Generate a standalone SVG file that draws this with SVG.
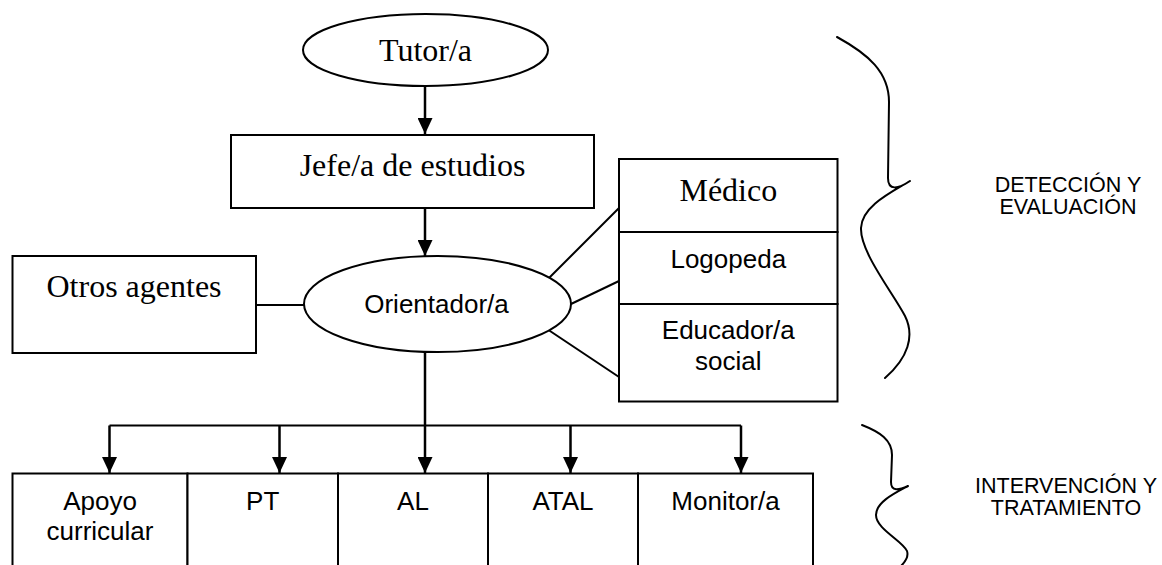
<svg xmlns="http://www.w3.org/2000/svg" width="1162" height="565" viewBox="0 0 1162 565">
<style>
.shape{fill:#fff;stroke:#000;stroke-width:2}
.ln{fill:none;stroke:#000;stroke-width:2}
.arr{fill:none;stroke:#000;stroke-width:2.5;marker-end:url(#ah)}
.brace{fill:none;stroke:#000;stroke-width:2;stroke-linecap:round;stroke-linejoin:round}
.serif{font-family:"Liberation Serif","Times New Roman",serif;font-size:32px;fill:#000;text-anchor:middle}
.sans{font-family:"Liberation Sans",Arial,sans-serif;font-size:26px;fill:#000;text-anchor:middle}
.lbl{font-family:"Liberation Sans",Arial,sans-serif;font-size:21.5px;fill:#000;text-anchor:middle}
</style>
<defs>
<marker id="ah" markerUnits="userSpaceOnUse" markerWidth="16" markerHeight="15" viewBox="0 0 16 15" refX="16" refY="7.5" orient="auto">
<path d="M0,0 L16,7.5 L0,15 Z" fill="#000"/>
</marker>
</defs>
<rect width="1162" height="565" fill="#fff"/>

<g id="connectors">
<line class="arr" x1="425" y1="86" x2="425" y2="134"/>
<line class="arr" x1="425" y1="208" x2="425" y2="256"/>
<line class="ln" x1="256" y1="305" x2="304" y2="305"/>
<line class="ln" x1="619" y1="208" x2="547" y2="280"/>
<line class="ln" x1="619" y1="281" x2="571" y2="304"/>
<line class="ln" x1="547" y1="329" x2="619" y2="377"/>
<line class="arr" x1="425" y1="352" x2="425" y2="473"/>
<line class="ln" x1="109.5" y1="425.5" x2="741" y2="425.5" stroke-width="2.5"/>
<line class="arr" x1="109.5" y1="425.5" x2="109.5" y2="473"/>
<line class="arr" x1="279.5" y1="425.5" x2="279.5" y2="473"/>
<line class="arr" x1="570.5" y1="425.5" x2="570.5" y2="473"/>
<line class="arr" x1="741" y1="425.5" x2="741" y2="473"/>
</g>

<g id="tutor">
<ellipse class="shape" cx="425.5" cy="50" rx="122.5" ry="36"/>
<text class="serif" x="425.5" y="61">Tutor/a</text>
</g>

<g id="jefe">
<rect class="shape" x="231" y="135" width="363" height="73"/>
<text class="serif" x="412.5" y="175.5">Jefe/a de estudios</text>
</g>

<g id="otros">
<rect class="shape" x="12.5" y="256" width="243.5" height="97"/>
<text class="serif" x="134" y="297">Otros agentes</text>
</g>

<g id="orientador">
<ellipse class="shape" cx="437.5" cy="304" rx="133.5" ry="48"/>
<text class="sans" x="436.5" y="313">Orientador/a</text>
</g>

<g id="medico">
<rect class="shape" x="619" y="159" width="218.5" height="73"/>
<text class="serif" x="728.3" y="200.5">Médico</text>
</g>
<g id="logopeda">
<rect class="shape" x="619" y="232" width="218.5" height="72"/>
<text class="sans" x="728.3" y="268">Logopeda</text>
</g>
<g id="educador">
<rect class="shape" x="619" y="304" width="218.5" height="97.5"/>
<text class="sans" x="728.3" y="339">Educador/a</text>
<text class="sans" x="728.3" y="370">social</text>
</g>

<g id="apoyo">
<rect class="shape" x="12.5" y="473.5" width="175" height="120"/>
<text class="sans" x="100" y="509.5">Apoyo</text>
<text class="sans" x="100" y="540">curricular</text>
</g>
<g id="pt">
<rect class="shape" x="187.5" y="473.5" width="150.5" height="120"/>
<text class="sans" x="262.7" y="509.5">PT</text>
</g>
<g id="al">
<rect class="shape" x="338" y="473.5" width="150" height="120"/>
<text class="sans" x="413" y="509.5">AL</text>
</g>
<g id="atal">
<rect class="shape" x="488" y="473.5" width="150" height="120"/>
<text class="sans" x="563" y="509.5">ATAL</text>
</g>
<g id="monitor">
<rect class="shape" x="638" y="473.5" width="175" height="120"/>
<text class="sans" x="725.5" y="509.5">Monitor/a</text>
</g>

<g id="brace-deteccion">
<path class="brace" d="M837,37 C868,54 889,72 889,102 L888,178 C888,191 898,189 910,181 C892,192 862,206 861,228 C860,252 893,293 905,316 C915,336 908,358 885,378"/>
<text class="lbl" x="1068" y="191.5">DETECCIÓN Y</text>
<text class="lbl" x="1068" y="213.5">EVALUACIÓN</text>
</g>

<g id="brace-intervencion">
<path class="brace" d="M862,425 C880,432 892,440 892,455 L891,482 C891,492 899,490 908,486 C895,493 876,502 876,515 C876,529 903,541 907,551 C909,557 905,562 901,566"/>
<text class="lbl" x="1066" y="492.5">INTERVENCIÓN Y</text>
<text class="lbl" x="1066" y="515">TRATAMIENTO</text>
</g>
</svg>
